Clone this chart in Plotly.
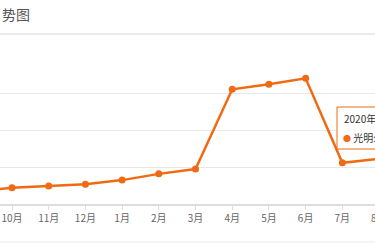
import plotly.graph_objects as go

months = ["9月", "10月", "11月", "12月", "1月", "2月", "3月", "4月", "5月", "6月", "7月", "8月"]
values = [17.5, 22, 24.5, 27, 32.5, 41, 47.5, 156, 163, 171, 56, 61.5]
series_name = "光明"
title_text = "势图"
tooltip_title = "2020年8月"

W, H = 375, 250
top, bottom = 57, 204
ph = bottom - top
xr = [0.673, 10.89]

def py(p):
    return (bottom - p) / ph

def px_of(i):
    return (i - xr[0]) / (xr[1] - xr[0])

fig = go.Figure()
fig.add_trace(go.Scatter(
    x=list(range(len(months))), y=values, mode="lines+markers",
    line=dict(color="#F06A14", width=2.5),
    marker=dict(color="#F06A14", size=7),
    cliponaxis=True, name=series_name, hoverinfo="skip"))

fig.update_layout(
    width=W, height=H, margin=dict(l=0, r=0, t=top, b=H - bottom),
    paper_bgcolor="white", plot_bgcolor="white", showlegend=False,
    font=dict(family="Noto Sans CJK SC", color="#666", size=10),
    xaxis=dict(range=xr, tickmode="array",
               tickvals=list(range(len(months))), ticktext=months,
               showgrid=False, showline=True, linecolor="#ddd", linewidth=2,
               ticks="outside", ticklen=4, tickcolor="#ddd",
               tickfont=dict(size=10, color="#666"), zeroline=False),
    yaxis=dict(range=[0, 200], dtick=50, showticklabels=False,
               showgrid=True, gridcolor="#e8e8e8", gridwidth=1, zeroline=False),
)

shapes = [
    dict(type="line", xref="paper", yref="paper", x0=0, x1=1, y0=py(34), y1=py(34),
         line=dict(color="#eaeaea", width=2)),
    dict(type="line", xref="paper", yref="paper", x0=0, x1=1, y0=py(242), y1=py(242),
         line=dict(color="#eaeaea", width=1)),
    dict(type="rect", xref="paper", yref="paper", x0=337 / W, x1=400 / W,
         y0=py(149), y1=py(107), fillcolor="rgba(255,255,255,0.92)",
         line=dict(color="#F06A14", width=1)),
]
fig.update_layout(shapes=shapes)

# last category label, partly outside the visible area
fig.add_annotation(text=months[-1], xref="paper", yref="paper", x=px_of(len(months) - 1),
                   y=py(217), xanchor="center", yanchor="middle", showarrow=False,
                   font=dict(size=10, color="#666"))

fig.add_annotation(text=title_text, xref="paper", yref="paper", x=0, y=py(14),
                   xanchor="left", yanchor="middle", showarrow=False,
                   font=dict(size=14, color="#555"))
fig.add_annotation(text=tooltip_title, xref="paper", yref="paper", x=342 / W, y=py(118),
                   xanchor="left", yanchor="middle", showarrow=False,
                   font=dict(size=10, color="#333"))
fig.add_annotation(text="<span style='color:#F06A14;font-size:8px'>●</span> " + series_name + ": " + str(values[-1]),
                   xref="paper", yref="paper", x=341 / W, y=py(137),
                   xanchor="left", yanchor="middle", showarrow=False,
                   font=dict(size=10, color="#333"))

fig.write_html("out.html")
